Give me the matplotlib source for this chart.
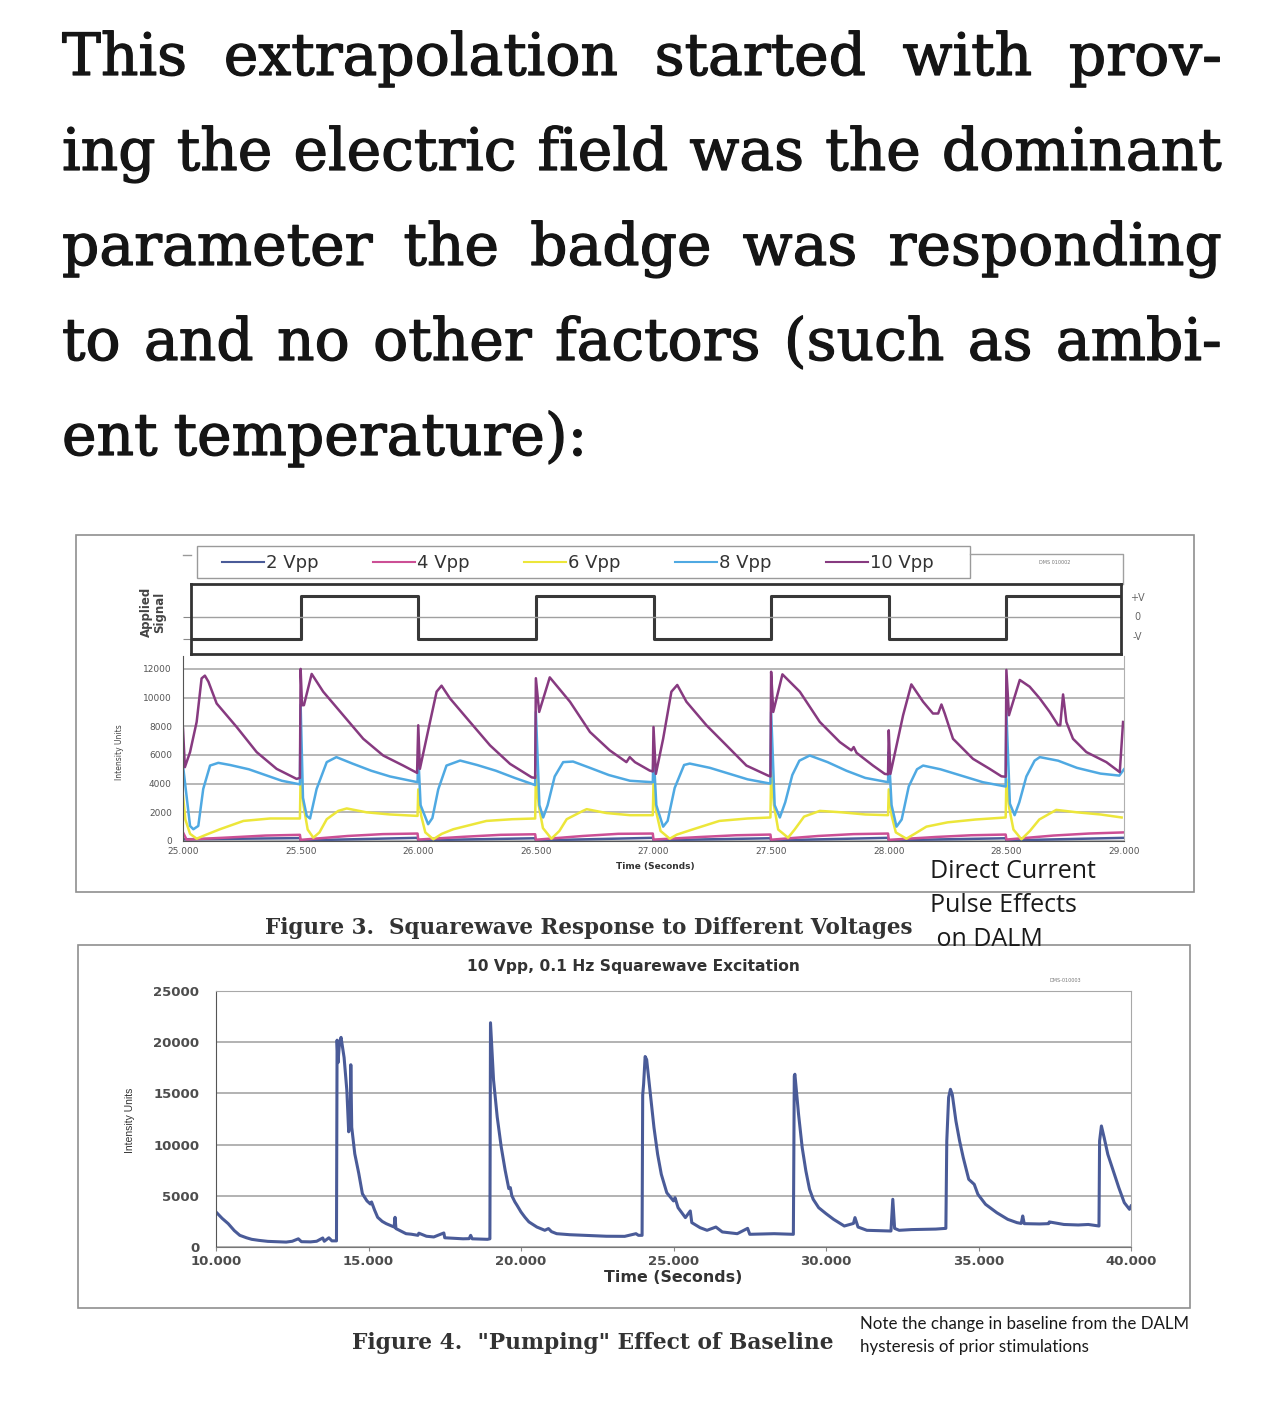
import matplotlib
matplotlib.use("Agg")
import matplotlib.pyplot as plt
import matplotlib.patheffects as pe
from matplotlib.patches import Rectangle

# ---- text ----
para_lines = [
    "This extrapolation started with prov-",
    "ing the electric field was the dominant",
    "parameter the badge was responding",
    "to and no other factors (such as ambi-",
    "ent temperature):",
]
side_note_lines = ["Direct Current", "Pulse Effects", " on DALM"]
fig3_caption = "Figure 3.  Squarewave Response to Different Voltages"
fig4_caption = 'Figure 4.  "Pumping" Effect of Baseline'
fig4_note = ["Note the change in baseline from the DALM", "hysteresis of prior stimulations"]
fig4_title = "10 Vpp, 0.1 Hz Squarewave Excitation"

# ---- figure 3 data ----
series_labels = ["2 Vpp", "4 Vpp", "6 Vpp", "8 Vpp", "10 Vpp"]
series_colors = ["#4a5b98", "#cc4f95", "#ece63a", "#4fa9e2", "#873a80"]

sig_times = [25.0, 25.5, 26.0, 26.5, 27.0, 27.5, 28.0, 28.5, 29.0]
sig_level = [-1, 1, -1, 1, -1, 1, -1, 1, 1]

t_2 = [25.000, 25.497, 25.500, 25.997, 26.000, 26.497, 26.500, 26.997, 27.000, 27.497,
       27.500, 27.997, 28.000, 28.497, 28.500, 29.000]
v_2 = [120, 200, 40, 220, 50, 190, 40, 220, 50, 190, 40, 220, 50, 190, 40, 220]

t_4 = [25.000, 25.015, 25.200, 25.350, 25.497, 25.500, 25.700, 25.850, 25.997, 26.000,
       26.200, 26.350, 26.497, 26.500, 26.700, 26.850, 26.997, 27.000, 27.200, 27.350,
       27.497, 27.500, 27.700, 27.850, 27.997, 28.000, 28.200, 28.350, 28.497, 28.500,
       28.700, 28.850, 29.000]
v_4 = [600, 100, 250, 380, 430, 80, 350, 480, 520, 100, 300, 430, 470, 90, 350, 500, 520,
       100, 280, 400, 450, 90, 350, 480, 520, 80, 280, 400, 450, 100, 380, 520, 600]

t_6 = [25.000, 25.010, 25.030, 25.058, 25.100, 25.157, 25.257, 25.370, 25.497,
       25.500, 25.512, 25.530, 25.554, 25.580, 25.611, 25.660, 25.696, 25.780, 25.880, 25.997,
       26.000, 26.012, 26.030, 26.064, 26.100, 26.149, 26.290, 26.400, 26.497,
       26.500, 26.512, 26.530, 26.566, 26.600, 26.631, 26.700, 26.716, 26.800, 26.900, 26.997,
       27.000, 27.012, 27.030, 27.069, 27.100, 27.169, 27.280, 27.400, 27.497,
       27.500, 27.512, 27.530, 27.572, 27.600, 27.640, 27.707, 27.800, 27.900, 27.997,
       28.000, 28.012, 28.030, 28.075, 28.110, 28.160, 28.250, 28.370, 28.497,
       28.500, 28.512, 28.530, 28.564, 28.600, 28.640, 28.712, 28.800, 28.900, 28.990]
v_6 = [3160, 1500, 500, 160, 450, 820, 1400, 1570, 1570,
       4560, 2500, 800, 230, 600, 1520, 2100, 2270, 2000, 1850, 1750,
       3600, 1800, 600, 120, 500, 820, 1400, 1520, 1570,
       4560, 2500, 900, 160, 700, 1520, 2100, 2220, 1950, 1800, 1800,
       4000, 2000, 700, 160, 450, 820, 1400, 1570, 1640,
       4800, 2500, 800, 230, 800, 1700, 2100, 2000, 1850, 1800,
       3600, 1800, 600, 160, 500, 1000, 1300, 1500, 1640,
       4300, 2300, 800, 120, 700, 1500, 2170, 2000, 1850, 1640]

t_8 = [25.000, 25.030, 25.044, 25.065, 25.086, 25.115, 25.150, 25.200, 25.280, 25.350, 25.420, 25.497,
       25.500, 25.510, 25.526, 25.540, 25.568, 25.611, 25.652, 25.720, 25.800, 25.880, 25.997,
       26.000, 26.010, 26.042, 26.060, 26.085, 26.120, 26.178, 26.250, 26.330, 26.410, 26.497,
       26.500, 26.515, 26.531, 26.550, 26.580, 26.616, 26.658, 26.730, 26.810, 26.900, 26.997,
       27.000, 27.012, 27.041, 27.060, 27.090, 27.130, 27.154, 27.240, 27.320, 27.400, 27.497,
       27.500, 27.515, 27.537, 27.560, 27.590, 27.620, 27.664, 27.740, 27.820, 27.900, 27.997,
       28.000, 28.012, 28.033, 28.055, 28.085, 28.120, 28.146, 28.220, 28.300, 28.400, 28.497,
       28.500, 28.515, 28.535, 28.555, 28.585, 28.620, 28.642, 28.720, 28.800, 28.900, 28.980, 29.000]
v_8 = [5260, 1050, 820, 1050, 3630, 5260, 5450, 5300, 5000, 4600, 4200, 3950,
       9500, 3000, 1750, 1570, 3630, 5500, 5850, 5400, 4900, 4500, 4100,
       6000, 2500, 1170, 1600, 3600, 5260, 5610, 5300, 4900, 4400, 3900,
       9000, 2500, 1640, 2500, 4500, 5500, 5540, 5100, 4600, 4200, 4100,
       6200, 2500, 1000, 1400, 3700, 5300, 5400, 5100, 4700, 4300, 4000,
       9000, 2500, 1640, 2700, 4600, 5600, 5960, 5500, 4900, 4400, 4100,
       6200, 2500, 1000, 1500, 3800, 5000, 5260, 5000, 4600, 4100, 3800,
       9000, 2600, 1800, 2700, 4500, 5600, 5850, 5600, 5100, 4700, 4560, 5000]

t_10 = [25.000, 25.008, 25.030, 25.058, 25.079, 25.093, 25.108, 25.143, 25.228, 25.313, 25.398, 25.483, 25.497,
        25.500, 25.506, 25.514, 25.547, 25.596, 25.681, 25.766, 25.851, 25.936, 25.995,
        26.000, 26.007, 26.050, 26.078, 26.099, 26.135, 26.220, 26.305, 26.390, 26.482, 26.497,
        26.500, 26.514, 26.559, 26.645, 26.730, 26.814, 26.885, 26.899, 26.921, 26.984, 26.997,
        27.000, 27.010, 27.041, 27.076, 27.101, 27.140, 27.225, 27.310, 27.395, 27.487, 27.497,
        27.500, 27.509, 27.548, 27.622, 27.707, 27.792, 27.841, 27.851, 27.863, 27.933, 27.983, 27.997,
        28.000, 28.007, 28.061, 28.096, 28.146, 28.188, 28.210, 28.224, 28.238, 28.273, 28.358, 28.429, 28.479, 28.497,
        28.500, 28.511, 28.557, 28.599, 28.642, 28.684, 28.720, 28.729, 28.741, 28.755, 28.783, 28.840, 28.925, 28.982, 28.996]
v_10 = [7840, 5150, 6200, 8300, 11340, 11530, 11110, 9590, 7950, 6200, 5030, 4330, 4400,
        12000, 9470, 9470, 11650, 10410, 8770, 7130, 5960, 5260, 4750,
        8070, 5030, 8300, 10410, 10830, 9940, 8300, 6670, 5380, 4440, 4400,
        11350, 9000, 11410, 9710, 7600, 6320, 5500, 5850, 5500, 4910, 4850,
        7950, 4680, 7130, 10410, 10880, 9710, 8070, 6670, 5260, 4560, 4500,
        11800, 9000, 11620, 10410, 8300, 6900, 6320, 6550, 6150, 5260, 4680, 4650,
        7720, 4680, 8770, 10920, 9710, 8890, 8890, 9520, 8890, 7130, 5730, 5030, 4510, 4480,
        11930, 8770, 11230, 10760, 9940, 9000, 8070, 8070, 10220, 8300, 7130, 6200, 5500, 4800, 8300]

top_yticks = [0, 2000, 4000, 6000, 8000, 10000, 12000]
top_xticks = [25.0, 25.5, 26.0, 26.5, 27.0, 27.5, 28.0, 28.5, 29.0]

# ---- figure 4 data ----
t_b = [10.00, 10.20, 10.40, 10.60, 10.78, 11.00, 11.17, 11.40, 11.70, 12.00, 12.30, 12.50,
       12.70, 12.80, 13.10, 13.30, 13.50, 13.55, 13.70, 13.80, 13.95,
       13.97, 14.00, 14.05, 14.10, 14.20, 14.29, 14.35, 14.40, 14.42, 14.45, 14.55, 14.68,
       14.80, 14.95, 15.06, 15.10, 15.20, 15.30, 15.45, 15.58, 15.84, 15.87, 15.90, 16.23,
       16.40, 16.62, 16.65, 16.90, 17.14, 17.47, 17.50, 17.80, 18.10, 18.30, 18.35, 18.40,
       18.90, 18.98,
       19.00, 19.05, 19.10, 19.22, 19.35, 19.48, 19.60, 19.65, 19.70, 19.80, 19.87, 20.00,
       20.13, 20.26, 20.52, 20.78, 20.90, 21.00, 21.17, 21.60, 22.10, 22.80, 23.40, 23.77,
       23.85, 23.97,
       23.99, 24.02, 24.07, 24.12, 24.23, 24.36, 24.48, 24.60, 24.78, 25.00, 25.05, 25.15,
       25.39, 25.55, 25.60, 25.87, 26.10, 26.39, 26.60, 27.09, 27.43, 27.50, 28.30, 28.93,
       28.96, 28.98, 29.10, 29.22, 29.34, 29.46, 29.58, 29.76, 30.00, 30.25, 30.60, 30.90,
       30.95, 31.05, 31.34, 31.70, 32.13, 32.19, 32.25, 32.40, 32.80, 33.20, 33.60, 33.93,
       33.96, 34.02, 34.08, 34.14, 34.26, 34.38, 34.50, 34.68, 34.86, 34.98, 35.23, 35.60,
       35.96, 36.26, 36.40, 36.45, 36.50, 37.00, 37.30, 37.32, 37.80, 38.27, 38.60, 38.95,
       38.97, 39.03, 39.12, 39.24, 39.42, 39.60, 39.78, 39.95, 40.00]
v_b = [3420, 2800, 2280, 1600, 1140, 900, 750, 650, 550, 520, 480, 560,
       800, 520, 500, 560, 880, 560, 900, 600, 600,
       20200, 18000, 20000, 20470, 18500, 15300, 11250, 12500, 17800, 11700, 9100, 7200,
       5200, 4500, 4200, 4400, 3600, 2900, 2500, 2280, 1950, 2900, 1800, 1300,
       1250, 1140, 1350, 1050, 980, 1370, 900, 850, 800, 815, 1140, 800,
       750, 800,
       21900, 19000, 16300, 12700, 9800, 7500, 5700, 5800, 5000, 4400, 4070, 3420,
       2900, 2450, 1950, 1630, 1800, 1500, 1300, 1200, 1140, 1050, 1040, 1300,
       1140, 1140,
       14850, 15900, 18600, 18300, 15240, 11660, 9050, 7100, 5300, 4500, 4820, 3840,
       2870, 3520, 2380, 1890, 1630, 1950, 1470, 1300, 1820, 1240, 1300, 1240,
       16700, 16870, 12960, 9700, 7430, 5640, 4660, 3840, 3260, 2700, 2050, 2300,
       2870, 1950, 1630, 1600, 1560, 4660, 1820, 1630, 1700, 1730, 1750, 1820,
       10360, 14600, 15400, 14900, 12300, 10360, 8730, 6610, 6120, 5150, 4170, 3350,
       2700, 2380, 2300, 3030, 2280, 2250, 2280, 2450, 2200, 2150, 2200, 2050,
       10360, 11820, 10680, 9050, 7430, 5800, 4330, 3680, 4000]
bot_yticks = [0, 5000, 10000, 15000, 20000, 25000]
bot_xticks = [10, 15, 20, 25, 30, 35, 40]

W, H = 1284, 1424
fig = plt.figure(figsize=(W / 100, H / 100), dpi=100)
renderer = fig.canvas.get_renderer()

# overlay in pixel coordinates for texts and frames
ov = fig.add_axes([0, 0, 1, 1])
ov.set_xlim(0, W)
ov.set_ylim(H, 0)
ov.axis("off")


def px_axes(x0, y0, x1, y1):
    ax = fig.add_axes([x0 / W, 1 - y1 / H, (x1 - x0) / W, (y1 - y0) / H])
    ax.set_facecolor("none")
    return ax


def fit_text(x, y, s, width, size0=10, **kw):
    t = ov.text(x, y, s, fontsize=size0, **kw)
    w = t.get_window_extent(renderer).width
    t.set_fontsize(size0 * width / w)
    return t


# ---- paragraph, justified ----
para_kw = dict(family="DejaVu Serif", fontsize=42, color="#151515", va="baseline",
               path_effects=[pe.withStroke(linewidth=0.9, foreground="#151515")])
left, right = 62, 1222
for i, line in enumerate(para_lines):
    y = 75 + i * 95
    words = line.split()
    txts = [ov.text(0, y, w, **para_kw) for w in words]
    widths = [t.get_window_extent(renderer).width for t in txts]
    if i < len(para_lines) - 1:
        gap = (right - left - sum(widths)) / (len(words) - 1)
    else:
        gap = 16
    x = left
    for t, w in zip(txts, widths):
        t.set_x(x)
        x += w + gap

# ---- frames ----
ov.add_patch(Rectangle((76, 535), 1118, 357, fill=False, ec="#8f8f8f", lw=1.2))
ov.add_patch(Rectangle((78, 945), 1112, 363, fill=False, ec="#8f8f8f", lw=1.2))

# ---- figure 3: legend ----
ov.add_patch(Rectangle((197, 546), 773, 32, fill=False, ec="#9a9a9a", lw=1))
ov.plot([970, 1123, 1123], [554, 554, 584], color="#a0a0a0", lw=1)
ov.plot([183, 191], [555, 555], color="#999999", lw=1)
for i, (lab, col) in enumerate(zip(series_labels, series_colors)):
    x0 = 222 + i * 151
    ov.plot([x0, x0 + 42], [562, 562], color=col, lw=1.5)
    ov.text(x0 + 44, 563, lab, fontsize=13, color="#333333", va="center", ha="left")
ov.text(1055, 563, "DMS 010002", fontsize=3.5, color="#777777", ha="center", va="center")

# ---- figure 3: applied signal ----
ax_s = px_axes(191, 584, 1121, 654)
ax_s.step(sig_times, sig_level, where="post", color="#383838", lw=2.2)
ax_s.axhline(0, color="#a0a0a0", lw=1)
ax_s.set_xlim(25.034, 28.987)
ax_s.set_ylim(-1.70, 1.56)
ax_s.set_xticks([])
ax_s.set_yticks([-1, 0])
ax_s.tick_params(axis="y", length=6, color="#888888", labelleft=False)
for sp in ax_s.spines.values():
    sp.set_linewidth(2)
    sp.set_color("#333333")
for lab, yy in zip(["+V", "0", "-V"], [598, 617, 637]):
    ov.text(1137, yy, lab, fontsize=7, color="#666666", ha="center", va="center")
ov.text(153, 612, "Applied\nSignal", rotation=90, fontsize=8.5, fontweight="bold",
        color="#444444", ha="center", va="center", linespacing=1.0)

# ---- figure 3: intensity ----
ax_i = px_axes(183, 656, 1124, 841)
for tt, vv, col in zip([t_2, t_4, t_6, t_8, t_10], [v_2, v_4, v_6, v_8, v_10], series_colors):
    ax_i.plot(tt, vv, color=col, lw=1.8)
ax_i.set_xlim(25, 29)
ax_i.set_ylim(0, 12900)
ax_i.set_yticks(top_yticks)
ax_i.set_yticklabels([str(v) for v in top_yticks])
ax_i.set_xticks(top_xticks)
ax_i.set_xticklabels(["%.3f" % v for v in top_xticks])
ax_i.grid(axis="y", color="#a3a3a3", lw=1.1)
ax_i.set_axisbelow(True)
ax_i.tick_params(axis="both", length=0, labelsize=6.5, labelcolor="#555555")
ax_i.tick_params(axis="y", pad=8)
ax_i.tick_params(axis="x", pad=4)
ax_i.spines["top"].set_visible(False)
ax_i.spines["right"].set_color("#b0b0b0")
ax_i.spines["left"].set_color("#555555")
ax_i.spines["bottom"].set_color("#555555")
ov.text(655, 866, "Time (Seconds)", fontsize=6.5, fontweight="bold", color="#333333",
        ha="center", va="center")
ov.text(120, 752, "Intensity Units", rotation=90, fontsize=5.5, color="#444444",
        ha="center", va="center")

# side note (same size on all three lines) and caption
note0 = fit_text(930, 871, side_note_lines[0], 166, family="Open Sans",
                 color="#1a1a1a", ha="left", va="center")
for s, yy in zip(side_note_lines[1:], [905, 939]):
    ov.text(930, yy, s, family="Open Sans", fontsize=note0.get_fontsize(),
            color="#1a1a1a", ha="left", va="center")
fit_text(265, 928, fig3_caption, 650, family="DejaVu Serif", fontweight="bold",
         color="#333333", ha="left", va="center")

# ---- figure 4 ----
fit_text(633, 966, fig4_title, 333, fontweight="bold", color="#333333", ha="center", va="center")
ov.text(1065, 981, "DMS-010003", fontsize=3.5, color="#777777", ha="center", va="center")

ax_b = px_axes(216, 991, 1131, 1247)
ax_b.plot(t_b, v_b, color="#4a5b98", lw=2.2)
ax_b.set_xlim(10, 40)
ax_b.set_ylim(0, 25000)
ax_b.set_yticks(bot_yticks)
ax_b.set_yticklabels([str(v) for v in bot_yticks])
ax_b.set_xticks(bot_xticks)
ax_b.set_xticklabels(["%.3f" % v for v in bot_xticks])
ax_b.grid(axis="y", color="#9e9e9e", lw=1.1)
ax_b.set_axisbelow(True)
ax_b.tick_params(axis="y", length=0, pad=12, labelsize=9.5, labelcolor="#4d4d4d")
ax_b.tick_params(axis="x", length=3, pad=3, labelsize=9.5, labelcolor="#4d4d4d", color="#888888")
for lab in ax_b.get_xticklabels() + ax_b.get_yticklabels():
    lab.set_fontweight("bold")
ax_b.spines["top"].set_color("#a8a8a8")
ax_b.spines["right"].set_color("#a8a8a8")
ax_b.spines["left"].set_color("#555555")
ax_b.spines["bottom"].set_color("#777777")
fit_text(673, 1278, "Time (Seconds)", 138, fontweight="bold", color="#333333",
         ha="center", va="center")
ov.text(130, 1120, "Intensity Units", rotation=90, fontsize=7.5, family="Liberation Sans",
        color="#333333", ha="center", va="center")

fit_text(352, 1343, fig4_caption, 483, family="DejaVu Serif", fontweight="bold",
         color="#333333", ha="left", va="center")
n1 = fit_text(860, 1324, fig4_note[0], 327, family="Lato", color="#1a1a1a", ha="left", va="center")
ov.text(860, 1347, fig4_note[1], family="Lato", color="#1a1a1a", ha="left", va="center",
        fontsize=n1.get_fontsize())

fig.savefig("out.png", dpi=100)
